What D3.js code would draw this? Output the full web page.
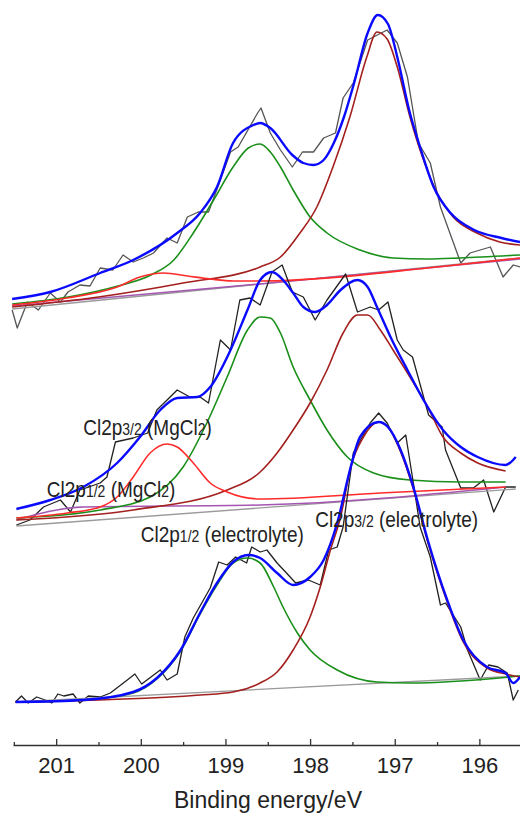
<!DOCTYPE html>
<html>
<head>
<meta charset="utf-8">
<script src="https://cdn.jsdelivr.net/npm/d3@7"></script>
<style>
  body { margin: 0; background: #fff; }
  text { font-family: "Liberation Sans", Arial, sans-serif; fill: #222; }
</style>
</head>
<body>
<div id="chart"></div>
<script>
// binding energy ticks
const majorTicks = [201, 200, 199, 198, 197, 196];
const minorTicks = [201.5, 200.5, 199.5, 198.5, 197.5, 196.5, 195.5];

// vertical offsets of the three stacked spectra (a.u.)
const offsetTop = 425;
const offsetMid = 215;
const offsetBot = 35;

// ---- top spectrum: [BE, intensity] ----
const topRaw = [[201.52,10],[201.46,-8],[201.34,18],[201.21,10],[201.07,27],[200.95,18],[200.86,28],[200.72,35],[200.60,34],[200.48,52],[200.33,50],[200.21,65],[200.09,58],[199.97,62],[199.85,67],[199.69,82],[199.57,77],[199.45,103],[199.32,108],[199.20,108],[199.06,140],[198.94,168],[198.85,173],[198.62,207],[198.58,212],[198.47,187],[198.35,170],[198.21,153],[198.09,168],[197.96,168],[197.84,182],[197.70,187],[197.61,222],[197.49,237],[197.32,280],[197.09,290],[196.97,277],[196.85,243],[196.72,177],[196.58,157],[196.46,113],[196.22,57],[196.11,67],[195.87,73],[195.72,43],[195.60,55],[195.52,53]];
const topEnvelope = [[201.52,21],[201.07,28],[200.48,47],[200.09,60],[199.57,87],[199.30,107],[199.10,133],[198.91,177],[198.67,195],[198.59,197],[198.47,192],[198.21,165],[198.08,157],[197.96,155],[197.84,160],[197.72,177],[197.60,203],[197.48,237],[197.32,287],[197.20,305],[197.08,296],[196.97,263],[196.83,210],[196.69,170],[196.54,133],[196.34,107],[196.06,90],[195.74,82],[195.52,78]];
const topGreen = [[201.52,16],[200.86,23],[200.27,34],[199.88,45],[199.61,60],[199.38,87],[199.14,120],[198.91,153],[198.73,172],[198.59,176],[198.47,168],[198.35,153],[198.20,130],[198.00,103],[197.80,87],[197.41,70],[197.02,62],[196.62,61],[196.23,62],[195.52,65]];
const topBrown = [[201.52,13],[200.50,23],[199.50,37],[198.59,53],[198.35,63],[198.12,87],[197.92,113],[197.73,153],[197.53,203],[197.33,263],[197.21,288],[197.09,281],[196.97,253],[196.82,203],[196.66,160],[196.50,127],[196.31,103],[196.03,87],[195.76,78],[195.52,75]];
const topRed = [[201.52,15],[200.87,22],[200.28,33],[200.01,43],[199.73,47],[199.45,44],[199.18,41],[198.91,39],[198.59,39],[196.50,53],[195.52,62]];
const topPurple = [[201.52,14],[198.59,36],[195.52,61]];
const topBase = [[201.52,11],[195.52,62]];

// ---- middle spectrum ----
const midRaw = [[201.47,5],[201.31,10],[201.15,23],[200.95,30],[200.83,18],[200.72,40],[200.48,47],[200.40,53],[200.30,88],[200.09,92],[199.92,97],[199.81,120],[199.57,140],[199.42,133],[199.30,133],[199.20,127],[199.06,190],[198.94,180],[198.83,230],[198.71,232],[198.59,225],[198.45,258],[198.33,265],[198.21,238],[198.08,233],[197.94,210],[197.80,230],[197.58,256],[197.44,218],[197.29,223],[197.19,220],[197.08,228],[196.97,190],[196.90,180],[196.79,173],[196.60,115],[196.44,103],[196.40,80],[196.22,42],[196.07,42],[195.95,50],[195.83,18],[195.69,43],[195.57,43]];
const midEnvelope = [[201.47,21],[201.07,30],[200.68,43],[200.28,67],[200.01,93],[199.77,120],[199.57,132],[199.33,133],[199.18,143],[198.94,180],[198.74,220],[198.59,250],[198.45,258],[198.32,250],[198.20,237],[198.08,223],[197.94,218],[197.80,225],[197.64,240],[197.44,250],[197.32,243],[197.21,223],[197.05,193],[196.85,160],[196.66,130],[196.43,100],[196.22,83],[196.02,73],[195.69,65],[195.57,73]];
const midGreen = [[201.47,12],[200.48,20],[199.89,33],[199.50,63],[199.22,107],[198.98,153],[198.74,200],[198.59,213],[198.47,212],[198.35,197],[198.20,163],[198.00,130],[197.80,100],[197.56,73],[197.25,57],[196.82,50],[196.22,48],[195.69,48]];
const midBrown = [[201.47,10],[200.09,20],[198.98,40],[198.59,58],[198.39,77],[198.20,100],[198.00,127],[197.80,160],[197.61,197],[197.44,215],[197.32,215],[197.17,200],[197.02,180],[196.82,153],[196.61,123],[196.43,93],[196.22,77],[196.02,67],[195.69,59]];
const midRed = [[201.47,12],[200.87,17],[200.48,23],[200.28,33],[200.09,53],[199.89,77],[199.69,86],[199.57,83],[199.38,67],[199.18,47],[198.98,38],[198.59,31],[197.17,37],[195.69,43]];
const midPurple = [[201.47,10],[200.68,23],[198.59,25],[195.69,43]];
const midBase = [[201.47,4],[195.57,41]];

// ---- bottom spectrum ----
const botRaw = [[201.48,8],[201.41,14],[201.33,7],[201.23,13],[201.13,10],[201.05,7],[200.98,16],[200.91,14],[200.80,16],[200.72,7],[200.62,14],[200.48,13],[200.36,17],[200.16,30],[200.07,36],[199.99,26],[199.77,40],[199.69,30],[199.57,36],[199.48,73],[199.38,92],[199.18,122],[199.08,148],[198.98,145],[198.88,153],[198.75,147],[198.69,163],[198.59,158],[198.51,160],[198.39,147],[198.29,138],[198.17,127],[198.02,130],[197.88,125],[197.78,160],[197.68,163],[197.61,183],[197.49,257],[197.29,287],[197.19,297],[197.09,287],[196.97,267],[196.87,275],[196.78,227],[196.70,183],[196.58,153],[196.46,105],[196.40,107],[196.22,83],[196.14,60],[195.99,30],[195.89,45],[195.78,43],[195.67,37],[195.60,10],[195.54,20]];
const botEnvelope = [[201.48,8],[200.68,10],[200.09,18],[199.81,32],[199.53,60],[199.30,97],[199.10,127],[198.91,148],[198.73,155],[198.59,152],[198.39,137],[198.20,125],[198.00,133],[197.84,150],[197.68,187],[197.52,243],[197.41,273],[197.19,288],[197.08,283],[196.93,260],[196.78,223],[196.61,170],[196.38,110],[196.19,70],[195.91,43],[195.69,37],[195.60,27],[195.52,33]];
const botGreen = [[201.48,8],[200.68,10],[200.09,17],[199.81,31],[199.53,59],[199.30,96],[199.10,125],[198.91,147],[198.74,152],[198.59,147],[198.43,123],[198.32,103],[198.15,77],[198.00,60],[197.68,40],[197.21,28],[196.82,27],[195.52,34]];
const botBrown = [[201.48,8],[199.30,15],[198.91,18],[198.59,27],[198.39,38],[198.20,60],[198.00,93],[197.88,123],[197.76,160],[197.64,193],[197.52,243],[197.37,273],[197.19,288],[197.08,283],[196.93,258],[196.78,221],[196.61,168],[196.38,108],[196.19,68],[195.91,42],[195.69,36],[195.52,33]];
const botBase = [[201.48,8],[195.52,34]];

const width = 520, height = 813;
const svg = d3.select("#chart").append("svg")
  .attr("width", width).attr("height", height);

const x = d3.scaleLinear().domain([201.51, 195.52]).range([13, 520]);
const y = d3.scaleLinear().domain([0, 745]).range([745, 0]);

const colors = {
  raw: "#333333",
  envelope: "#0a0aff",
  green: "#1a8f1a",
  brown: "#a3201e",
  red: "#ff2b2b",
  purple: "#a556b0",
  base: "#9a9a9a",
};

const drawLine = (data, offset, color, w, curve) => {
  const line = d3.line()
    .x((d) => x(d[0]))
    .y((d) => y(d[1] + offset))
    .curve(curve || d3.curveLinear);
  svg.append("path")
    .datum(data)
    .attr("d", line)
    .attr("fill", "none")
    .attr("stroke", color)
    .attr("stroke-width", w)
    .attr("stroke-linejoin", "round");
};

const smooth = d3.curveMonotoneX;

const spectra = [
  { off: offsetTop, raw: topRaw, rawColor: "#555", base: topBase, purple: topPurple, green: topGreen, brown: topBrown, red: topRed, env: topEnvelope },
  { off: offsetMid, raw: midRaw, rawColor: "#222", base: midBase, purple: midPurple, green: midGreen, brown: midBrown, red: midRed, env: midEnvelope },
  { off: offsetBot, raw: botRaw, rawColor: "#222", base: botBase, green: botGreen, brown: botBrown, env: botEnvelope },
];

spectra.forEach((s) => {
  drawLine(s.raw, s.off, s.rawColor, 1.3);
  drawLine(s.base, s.off, colors.base, 1.3);
  if (s.purple) drawLine(s.purple, s.off, colors.purple, 1.5, smooth);
  drawLine(s.green, s.off, colors.green, 1.6, smooth);
  drawLine(s.brown, s.off, colors.brown, 1.6, smooth);
  if (s.red) drawLine(s.red, s.off, colors.red, 1.6, smooth);
  drawLine(s.env, s.off, colors.envelope, 2.4, smooth);
});

// peak labels (the original font is taller than it is wide, hence the stretch)
const labels = [
  { be: 200.68, h: 310, parts: [["Cl2p", 0], ["3/2", 1], [" (MgCl", 0], ["2", 1], [")", 0]] },
  { be: 201.11, h: 248, parts: [["Cl2p", 0], ["1/2", 1], [" (MgCl", 0], ["2", 1], [")", 0]] },
  { be: 200.0, h: 203, parts: [["Cl2p", 0], ["1/2", 1], [" (electrolyte)", 0]] },
  { be: 197.94, h: 218, parts: [["Cl2p", 0], ["3/2", 1], [" (electrolyte)", 0]] },
];

labels.forEach((l) => {
  const t = svg.append("text")
    .attr("transform", `translate(${x(l.be)},${y(l.h)}) scale(1,1.2)`)
    .style("font-size", "19px");
  l.parts.forEach((p) => {
    t.append("tspan")
      .style("font-size", p[1] ? "14px" : "19px")
      .text(p[0]);
  });
});

// axis
const axisY = y(0);
const gMinor = svg.append("g")
  .attr("transform", `translate(0,${axisY})`)
  .call(d3.axisBottom(x).tickValues(minorTicks).tickSizeInner(-3).tickSizeOuter(0).tickFormat(""));
gMinor.select(".domain").remove();

const gMajor = svg.append("g")
  .attr("transform", `translate(0,${axisY})`)
  .call(d3.axisBottom(x).tickValues(majorTicks).tickSizeInner(-6).tickSizeOuter(0).tickPadding(12).tickFormat(d3.format("d")));

svg.selectAll(".tick line").attr("stroke", "#333").attr("stroke-width", 1.3);
gMajor.select(".domain").attr("stroke", "#333").attr("stroke-width", 1.5);
gMajor.selectAll(".tick text")
  .style("font-size", "22px")
  .style("font-family", "'Liberation Sans', Arial, sans-serif")
  .attr("fill", "#222");

svg.append("text")
  .attr("x", 268)
  .attr("y", 808)
  .attr("text-anchor", "middle")
  .style("font-size", "23px")
  .text("Binding energy/eV");
</script>
</body>
</html>
